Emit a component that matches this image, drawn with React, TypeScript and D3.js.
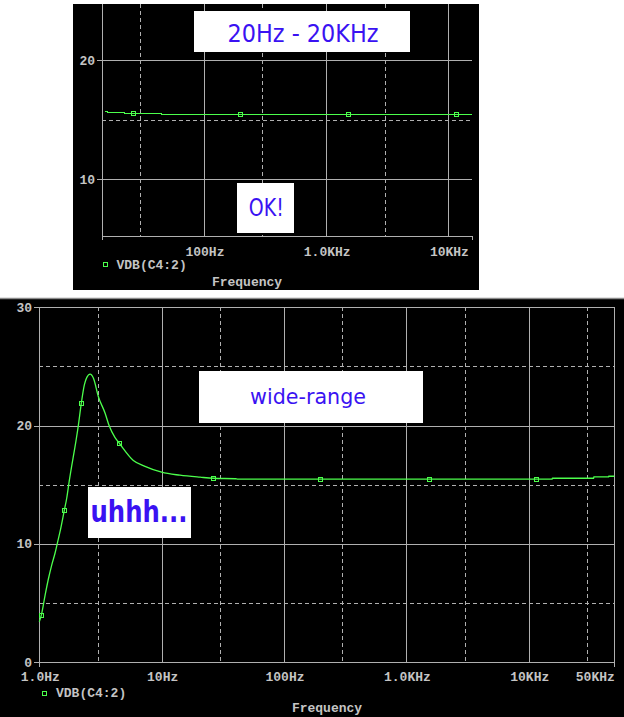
import React from "react";
import * as d3 from "d3";

// ---------- data ----------
// top chart (20Hz - 20KHz sweep)
const TOP_FREQ = [15.5, 16.3, 21.7, 22.5, 43.6, 45, 15500];
const TOP_DB = [15.71, 15.63, 15.63, 15.55, 15.55, 15.46, 15.46];
const TOP_MARKER_FREQ = [26.4, 198, 1519, 11600];
const TOP_MARKER_DB = [15.55, 15.46, 15.46, 15.46];

// bottom chart (wide-range sweep)
const WIDE_FREQ = [1.0, 1.038, 1.113, 1.185, 1.263, 1.344, 1.404, 1.477, 1.601, 1.675, 1.745, 2.085, 2.205, 2.334, 2.44, 2.6, 2.77, 3.04, 3.45, 3.71, 4.16, 4.51, 5.87, 7.31, 10.0, 14.1, 20.6, 26.4, 40, 42, 15500, 15600, 33900, 34000, 44900, 45000, 50000];
const WIDE_DB = [3.41, 3.95, 5.6, 7.0, 8.2, 9.2, 10.04, 11.02, 12.83, 13.85, 15.1, 20.02, 21.89, 23.43, 24.05, 24.34, 24.0, 22.44, 21.04, 20.02, 18.98, 18.5, 17.05, 16.55, 16.05, 15.8, 15.63, 15.54, 15.5, 15.46, 15.46, 15.54, 15.54, 15.65, 15.65, 15.71, 15.71];
const WIDE_MARKER_FREQ = [1.038, 1.601, 2.205, 4.51, 26.4, 198, 1516, 11500];
const WIDE_MARKER_DB = [3.95, 12.83, 21.89, 18.5, 15.54, 15.46, 15.46, 15.46];

// ticks / grid
const TOP_SOLID_X = [100, 1000, 10000];
const TOP_DASH_X = [30, 300, 3000];
const TOP_SOLID_Y = [10, 20];
const TOP_DASH_Y = [15];
const TOP_Y_LABELS = [10, 20];
const TOP_X_LABELS: [number, string][] = [[100, "100Hz"], [1000, "1.0KHz"], [10000, "10KHz"]];

const WIDE_SOLID_X = [10, 100, 1000, 10000, 50000];
const WIDE_DASH_X = [3, 30, 300, 3000, 30000];
const WIDE_SOLID_Y = [10, 20, 30];
const WIDE_DASH_Y = [5, 15, 25];
const WIDE_Y_LABELS = [0, 10, 20, 30];
const WIDE_X_LABELS: [number, string][] = [[1, "1.0Hz"], [10, "10Hz"], [100, "100Hz"], [1000, "1.0KHz"], [10000, "10KHz"]];
const WIDE_LAST_LABEL: [number, string] = [50000, "50KHz"];

const TRACE_NAME = "VDB(C4:2)";
const AXIS_TITLE = "Frequency";

// ---------- styles ----------
const GREEN = "#4cff4c";
const GRID = "#b0b0b0";
const TXT = "#c4c4c4";
const BLUE = "#3a12f2";
const MONO = "'Liberation Mono', 'DejaVu Sans Mono', monospace";
const SANS = "'DejaVu Sans', 'Noto Sans', sans-serif";

const px = (v: number) => Math.round(v) + 0.5;

function Grid({ x, y, solidX, dashX, solidY, dashY, x0, x1, y0, y1 }: any) {
  return (
    <g shapeRendering="crispEdges">
      {dashX.map((f: number) => (
        <line key={"dx" + f} x1={px(x(f))} x2={px(x(f))} y1={y0} y2={y1} stroke={GRID} strokeDasharray="4,3" />
      ))}
      {dashY.map((v: number) => (
        <line key={"dy" + v} x1={x0} x2={x1} y1={px(y(v))} y2={px(y(v))} stroke={GRID} strokeDasharray="4,3" />
      ))}
      {solidX.map((f: number) => (
        <line key={"sx" + f} x1={px(x(f))} x2={px(x(f))} y1={y0} y2={y1} stroke={GRID} />
      ))}
      {solidY.map((v: number) => (
        <line key={"sy" + v} x1={x0 - 5} x2={x1} y1={px(y(v))} y2={px(y(v))} stroke={GRID} />
      ))}
    </g>
  );
}

export default function App() {
  // top chart scales
  const xT = d3.scaleLog().domain([14.72, 15600]).range([102.3, 472]);
  const yT = d3.scaleLinear().domain([5.21, 24.73]).range([236.3, 4]);
  // wide chart scales
  const xW = d3.scaleLog().domain([1, 50000]).range([39.3, 614.3]);
  const yW = d3.scaleLinear().domain([0, 30]).range([662, 307.3]);

  const lineT = d3
    .line<number>()
    .x((_, i) => xT(TOP_FREQ[i]))
    .y((d) => yT(d))
    .curve(d3.curveStepAfter);
  const lineW = d3
    .line<number>()
    .x((_, i) => xW(WIDE_FREQ[i]))
    .y((d) => yW(d))
    .curve(d3.curveMonotoneX);

  const tx0 = xT(14.72), tx1 = xT(15600), tyB = yT(5.21), tyT = yT(24.73);
  const wx0 = xW(1), wx1 = xW(50000), wyB = yW(0), wyT = yW(30);

  return (
    <svg width={624} height={717} style={{ position: "absolute", left: 0, top: 0, background: "#fff" }}>
      {/* ================= TOP PANEL ================= */}
      <rect x={73} y={4} width={406} height={286} fill="#000" />
      <Grid x={xT} y={yT} solidX={TOP_SOLID_X} dashX={TOP_DASH_X} solidY={TOP_SOLID_Y} dashY={TOP_DASH_Y} x0={tx0} x1={tx1} y0={tyT} y1={tyB} />
      <g shapeRendering="crispEdges" stroke={GRID}>
        <line x1={px(tx0)} x2={px(tx0)} y1={tyT} y2={tyB + 4} />
        <line x1={tx0} x2={tx1} y1={px(tyB)} y2={px(tyB)} />
        <line x1={px(tx1)} x2={px(tx1)} y1={tyB} y2={tyB + 4} />
      </g>
      <path d={lineT(TOP_DB) || ""} fill="none" stroke={GREEN} strokeWidth={1.2} shapeRendering="crispEdges" />
      {TOP_MARKER_FREQ.map((f, i) => (
        <rect key={"tm" + i} x={Math.round(xT(f)) - 2 + 0.5} y={Math.round(yT(TOP_MARKER_DB[i])) - 2 + 0.5} width={4} height={4} fill="none" stroke={GREEN} shapeRendering="crispEdges" />
      ))}
      <g fontFamily={MONO} fontWeight="bold" fontSize={13} fill={TXT}>
        {TOP_Y_LABELS.map((v) => (
          <text key={"tyl" + v} x={95} y={yT(v) + 4.6} textAnchor="end">{v}</text>
        ))}
        {TOP_X_LABELS.map(([f, s]) => (
          <text key={"txl" + f} x={xT(f) + 1} y={256} textAnchor="middle">{s}</text>
        ))}
        <text x={116.5} y={268.5}>{TRACE_NAME}</text>
        <text x={247} y={286} textAnchor="middle">{AXIS_TITLE}</text>
      </g>
      <rect x={103.5} y={262.5} width={4} height={4} fill="none" stroke={GREEN} shapeRendering="crispEdges" />
      {/* annotations */}
      <rect x={194} y={11} width={216} height={41} fill="#fff" />
      <text x={303} y={41.5} textAnchor="middle" fontFamily={SANS} fontSize={24} fill={BLUE} textLength={151} lengthAdjust="spacingAndGlyphs">20Hz - 20KHz</text>
      <rect x={237} y={183} width={57} height={50} fill="#fff" />
      <text x={266.3} y={216} textAnchor="middle" fontFamily={SANS} fontSize={24} fill={BLUE} textLength={35} lengthAdjust="spacingAndGlyphs">OK!</text>

      {/* ================= WIDE PANEL ================= */}
      <rect x={0} y={298} width={624} height={419} fill="#000" />
      <line x1={0} x2={624} y1={298.5} y2={298.5} stroke="#8a8a8a" strokeWidth={1.5} />
      <Grid x={xW} y={yW} solidX={WIDE_SOLID_X} dashX={WIDE_DASH_X} solidY={WIDE_SOLID_Y} dashY={WIDE_DASH_Y} x0={wx0} x1={wx1} y0={wyT} y1={wyB} />
      <g shapeRendering="crispEdges" stroke={GRID}>
        <line x1={px(wx0)} x2={px(wx0)} y1={wyT} y2={wyB + 5} />
        <line x1={wx0 - 5} x2={wx1} y1={px(wyB)} y2={px(wyB)} />
        <line x1={px(wx1)} x2={px(wx1)} y1={wyT} y2={wyB + 5} />
      </g>
      <path d={lineW(WIDE_DB) || ""} fill="none" stroke={GREEN} strokeWidth={1.3} />
      {WIDE_MARKER_FREQ.map((f, i) => (
        <rect key={"wm" + i} x={Math.round(xW(f)) - 2 + 0.5} y={Math.round(yW(WIDE_MARKER_DB[i])) - 2 + 0.5} width={4} height={4} fill="none" stroke={GREEN} shapeRendering="crispEdges" />
      ))}
      <g fontFamily={MONO} fontWeight="bold" fontSize={13} fill={TXT}>
        {WIDE_Y_LABELS.map((v) => (
          <text key={"wyl" + v} x={32} y={yW(v) + 4.6} textAnchor="end">{v}</text>
        ))}
        {WIDE_X_LABELS.map(([f, s]) => (
          <text key={"wxl" + f} x={xW(f) + 1} y={681} textAnchor="middle">{s}</text>
        ))}
        <text x={xW(WIDE_LAST_LABEL[0]) + 0.5} y={681} textAnchor="end">{WIDE_LAST_LABEL[1]}</text>
        <text x={56} y={697}>{TRACE_NAME}</text>
        <text x={327} y={712} textAnchor="middle">{AXIS_TITLE}</text>
      </g>
      <rect x={42.5} y={691.5} width={4} height={4} fill="none" stroke={GREEN} shapeRendering="crispEdges" />
      {/* annotations */}
      <rect x={199} y={371} width={224} height={52} fill="#fff" />
      <text x={308} y={403.5} textAnchor="middle" fontFamily={SANS} fontSize={21} fill={BLUE} textLength={116} lengthAdjust="spacingAndGlyphs">wide-range</text>
      <rect x={88} y={487} width={103} height={51} fill="#fff" />
      <text x={139} y={522} textAnchor="middle" fontFamily={SANS} fontWeight="bold" fontSize={30} fill={BLUE} textLength={97} lengthAdjust="spacingAndGlyphs">uhhh...</text>
    </svg>
  );
}
